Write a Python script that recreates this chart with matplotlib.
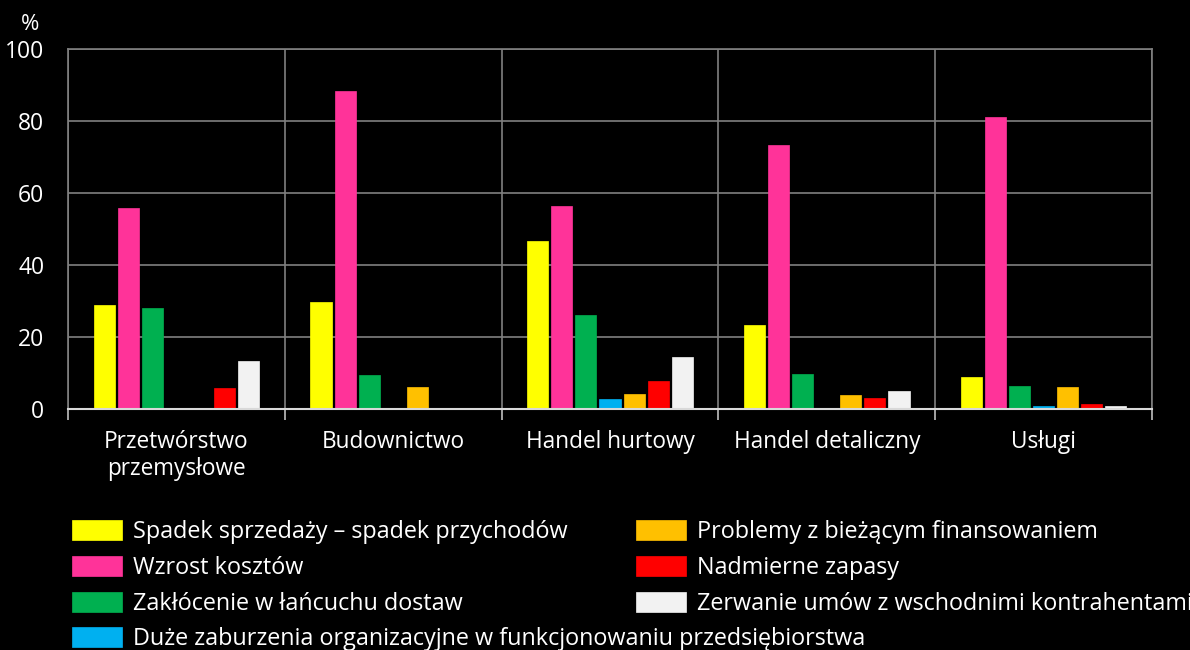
import matplotlib
matplotlib.use("Agg")
import matplotlib.pyplot as plt
import numpy as np

categories = ["Przetwórstwo\nprzemysłowe", "Budownictwo", "Handel hurtowy",
              "Handel detaliczny", "Usługi"]
series_names = [
    "Spadek sprzedaży – spadek przychodów",
    "Wzrost kosztów",
    "Zakłócenie w łańcuchu dostaw",
    "Duże zaburzenia organizacyjne w funkcjonowaniu przedsiębiorstwa",
    "Problemy z bieżącym finansowaniem",
    "Nadmierne zapasy",
    "Zerwanie umów z wschodnimi kontrahentami",
]
spadek_sprzedazy = [28.9, 29.7, 46.7, 23.3, 8.9]
wzrost_kosztow = [55.8, 88.3, 56.4, 73.3, 81.1]
zaklocenie_dostaw = [28.1, 9.5, 26.2, 9.6, 6.5]
zaburzenia_org = [0.4, 0.0, 2.8, 0.0, 0.7]
problemy_finans = [0.4, 6.0, 4.3, 4.0, 6.1]
nadmierne_zapasy = [5.8, 0.0, 7.7, 3.1, 1.4]
zerwanie_umow = [13.4, 0.0, 14.4, 5.0, 0.7]

series = [spadek_sprzedazy, wzrost_kosztow, zaklocenie_dostaw, zaburzenia_org,
          problemy_finans, nadmierne_zapasy, zerwanie_umow]
colors = ["#FFFF00", "#FF3399", "#00B050", "#00B0F0", "#FFC000", "#FF0000", "#F2F2F2"]

plt.rcParams["font.family"] = ["Open Sans", "DejaVu Sans"]

fig = plt.figure(figsize=(11.9, 6.5), dpi=100, facecolor="black")
ax = fig.add_axes([68 / 1190, 1 - 409 / 650, (1152 - 68) / 1190, 360 / 650])
ax.set_facecolor("black")

x = np.arange(len(categories))
step = 0.111
width = 0.097
bars = []
for i, (vals, c, name) in enumerate(zip(series, colors, series_names)):
    b = ax.bar(x + (i - 3) * step, vals, width, color=c, label=name,
               edgecolor=c, linewidth=0.5, zorder=3)
    bars.append(b)

ax.set_xlim(-0.5, len(categories) - 0.5)
ax.set_ylim(0, 100)
ax.set_yticks([0, 20, 40, 60, 80, 100])
ax.set_xticks(x)
ax.set_xticklabels(categories)
ax.set_xticks(np.arange(len(categories) + 1) - 0.5, minor=True)
ax.tick_params(axis="x", which="major", length=0, pad=15, colors="white", labelsize=16.3)
ax.tick_params(axis="x", which="minor", length=8, color="#BFBFBF", width=1.2)
ax.tick_params(axis="y", length=0, pad=17, colors="white", labelsize=16.5)
ax.grid(axis="y", color="#808080", linewidth=1.2, zorder=0)
ax.grid(axis="x", which="minor", color="#808080", linewidth=1.2, zorder=0)
for s in ["top", "right", "left"]:
    ax.spines[s].set_color("#808080")
    ax.spines[s].set_linewidth(1.2)
ax.spines["bottom"].set_color("#D9D9D9")
ax.spines["bottom"].set_linewidth(1.5)
ax.spines["bottom"].set_zorder(4)

fig.text(30 / 1190, 1 - 24 / 650, "%", color="white", fontsize=16, ha="center", va="center")

leg_kw = dict(loc="upper left", frameon=False, fontsize=16.8, labelcolor="white",
              handlelength=2.15, handleheight=0.95, handletextpad=0.45,
              labelspacing=0.5, borderaxespad=0, borderpad=0)
leg1 = fig.legend(bars[:4], series_names[:4], bbox_to_anchor=(72 / 1190, 1 - 520 / 650), **leg_kw)
leg2 = fig.legend(bars[4:], series_names[4:], bbox_to_anchor=(636 / 1190, 1 - 520 / 650), **leg_kw)

fig.savefig("out.png", dpi=100, facecolor="black")
